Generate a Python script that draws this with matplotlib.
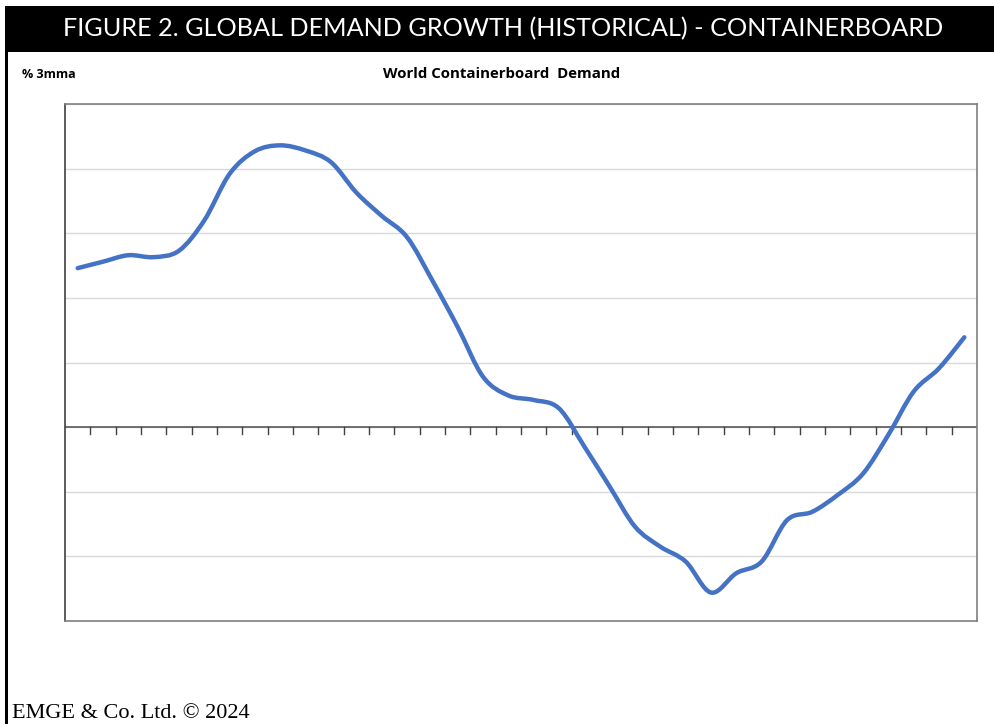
import numpy as np
import matplotlib
matplotlib.use("Agg")
import matplotlib.pyplot as plt
from matplotlib.path import Path
from matplotlib.patches import PathPatch, Rectangle

# monthly demand growth, % 3mma (axis labels hidden in source; units = gridlines)
periods = list(range(36))
growth = [2.46, 2.56, 2.66, 2.63, 2.73, 3.20, 3.92, 4.27, 4.36, 4.28, 4.10, 3.63,
          3.27, 2.94, 2.27, 1.55, 0.78, 0.49, 0.42, 0.29, -0.30, -0.92, -1.54, -1.85,
          -2.08, -2.56, -2.26, -2.08, -1.44, -1.31, -1.05, -0.72, -0.12, 0.55, 0.91, 1.39]
y_ticks = [-3, -2, -1, 0, 1, 2, 3, 4, 5]

W, H = 994, 724
fig = plt.figure(figsize=(W / 100, H / 100), dpi=100)
fig.patch.set_facecolor("white")

# header band and left rule
fig.patches.append(Rectangle((5 / W, 1 - 52 / H), 1, 46 / H, transform=fig.transFigure,
                             facecolor="black", edgecolor="none"))
fig.patches.append(Rectangle((5 / W, 0), 3 / W, 1 - 52 / H, transform=fig.transFigure,
                             facecolor="black", edgecolor="none"))
fig.text(503 / W, 1 - 29 / H, "FIGURE 2. GLOBAL DEMAND GROWTH (HISTORICAL) - CONTAINERBOARD",
         color="white", fontsize=18.2, ha="center", va="center", family="Lato")
fig.text(22 / W, 1 - 74 / H, "% 3mma", fontsize=9, fontweight="bold", ha="left", va="center",
         family="Open Sans")
fig.text(502 / W, 1 - 74 / H, "World Containerboard  Demand", fontsize=10.8, fontweight="bold",
         ha="center", va="center", family="Open Sans")
fig.text(12 / W, 1 - 713 / H, "EMGE & Co. Ltd. © 2024", fontsize=16, ha="left", va="center",
         family="Liberation Serif")

ax = fig.add_axes([65 / W, 1 - 621 / H, 912 / W, 517 / H])
ax.set_xlim(-0.5, len(periods) - 0.5)
ax.set_ylim(y_ticks[0], y_ticks[-1])
ax.set_yticks(y_ticks)
ax.yaxis.grid(True, color="#d9d9d9", linewidth=1)
ax.tick_params(axis="y", length=0, labelleft=False)
ax.set_xticks([])
for s in ax.spines.values():
    s.set_color("#7f7f7f")
    s.set_linewidth(1.2)
ax.spines["left"].set_color("#404040")

# zero line with category ticks
ax.axhline(0, color="#595959", linewidth=1.2, zorder=2)
for b in np.arange(0.5, len(periods) - 1, 1.0):
    ax.plot([b, b], [0, -0.1], color="#404040", linewidth=1, zorder=2)

# smoothed line (Catmull-Rom style bezier, as in Excel smoothed series)
x = np.array(periods, dtype=float)
y = np.array(growth)
verts = [(x[0], y[0])]
codes = [Path.MOVETO]
t = 1 / 6
for i in range(len(x) - 1):
    p0 = (x[i - 1], y[i - 1]) if i > 0 else (x[i], y[i])
    p1 = (x[i], y[i])
    p2 = (x[i + 1], y[i + 1])
    p3 = (x[i + 2], y[i + 2]) if i + 2 < len(x) else p2
    c1 = (p1[0] + (p2[0] - p0[0]) * t, p1[1] + (p2[1] - p0[1]) * t)
    c2 = (p2[0] - (p3[0] - p1[0]) * t, p2[1] - (p3[1] - p1[1]) * t)
    verts += [c1, c2, p2]
    codes += [Path.CURVE4] * 3
ax.add_patch(PathPatch(Path(verts, codes), facecolor="none", edgecolor="#4472c4",
                       linewidth=3.2, capstyle="round", zorder=3))

fig.savefig("out.png", dpi=100)
